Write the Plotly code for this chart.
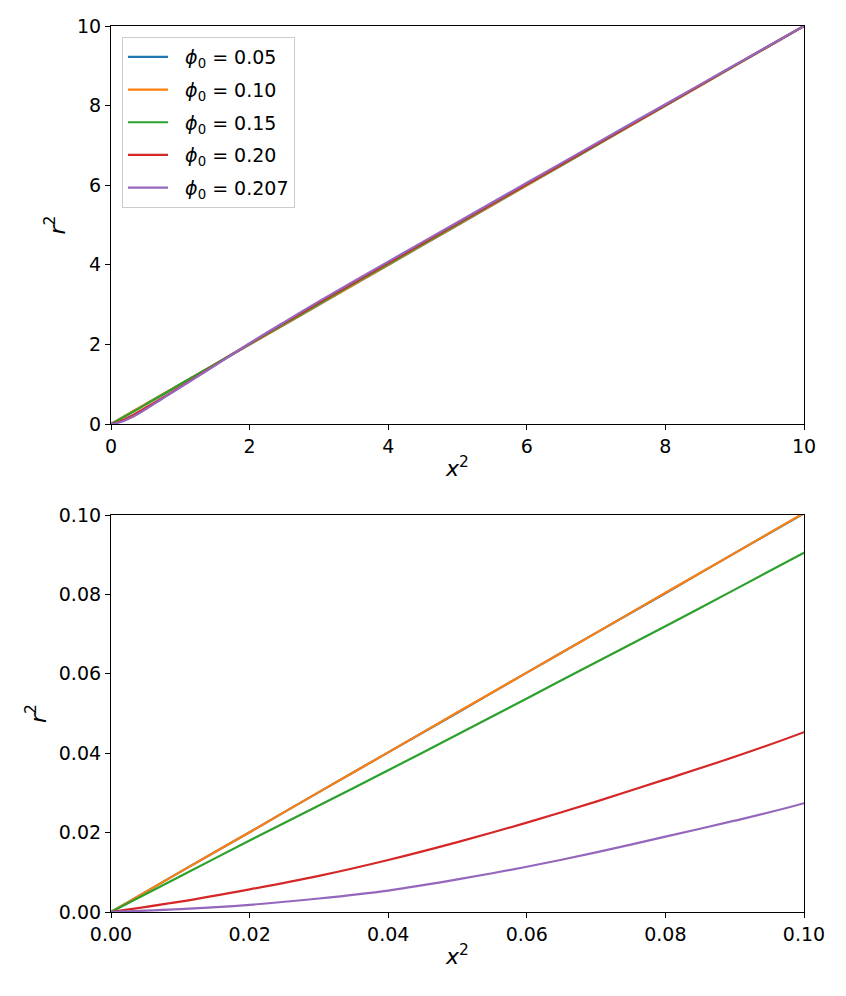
import plotly.graph_objects as go
from plotly.subplots import make_subplots

# x^2 sample grid
x2 = [0, 0.01, 0.02, 0.03, 0.04, 0.05, 0.06, 0.07, 0.08, 0.09, 0.1,
      0.15, 0.2, 0.3, 0.4, 0.5, 0.6, 0.8, 1.0, 1.2, 1.5, 2, 2.5, 3, 4, 5, 6, 7, 8, 9, 10]

# r^2 for each phi_0
r2_005 = [0, 0.0101, 0.0201, 0.0302, 0.0402, 0.0502, 0.0603, 0.0703, 0.0803, 0.0904, 0.1004,
          0.150, 0.200, 0.300, 0.400, 0.500, 0.600, 0.799, 0.998, 1.197, 1.496, 1.995, 2.495, 2.995, 3.995, 4.995, 5.995, 6.996, 7.997, 8.998, 10.0]
r2_010 = [0, 0.0101, 0.0201, 0.0302, 0.0402, 0.0503, 0.0603, 0.0703, 0.0804, 0.0904, 0.1005,
          0.151, 0.201, 0.301, 0.401, 0.501, 0.601, 0.800, 1.000, 1.200, 1.500, 2.000, 2.500, 3.000, 4.000, 5.000, 6.000, 7.000, 8.000, 9.000, 10.0]
r2_015 = [0, 0.0090, 0.0180, 0.0268, 0.0357, 0.0447, 0.0538, 0.0629, 0.0720, 0.0812, 0.0905,
          0.138, 0.187, 0.286, 0.386, 0.487, 0.589, 0.793, 0.997, 1.200, 1.505, 2.010, 2.515, 3.020, 4.020, 5.020, 6.015, 7.010, 8.010, 9.005, 10.0]
r2_020 = [0, 0.0026, 0.0057, 0.0091, 0.0131, 0.0176, 0.0225, 0.0278, 0.0334, 0.0391, 0.0453,
          0.080, 0.120, 0.210, 0.310, 0.410, 0.510, 0.720, 0.930, 1.150, 1.480, 2.020, 2.540, 3.050, 4.050, 5.040, 6.030, 7.020, 8.015, 9.010, 10.0]
r2_0207 = [0, 0.0007, 0.0018, 0.0034, 0.0054, 0.0082, 0.0114, 0.0150, 0.0190, 0.0230, 0.0274,
           0.055, 0.088, 0.170, 0.265, 0.370, 0.480, 0.700, 0.920, 1.140, 1.470, 2.030, 2.560, 3.080, 4.080, 5.070, 6.060, 7.050, 8.035, 9.020, 10.0]

labels = ["0.05", "0.10", "0.15", "0.20", "0.207"]
series = [r2_005, r2_010, r2_015, r2_020, r2_0207]
colors = ["#1f77b4", "#ff7f0e", "#2ca02c", "#d62728", "#9467bd"]

fig = make_subplots(rows=2, cols=1)
for i, (lab, ys, c) in enumerate(zip(labels, series, colors)):
    for row in (1, 2):
        fig.add_trace(go.Scatter(
            x=x2, y=ys, mode="lines",
            line=dict(color=c, width=2.2, shape="spline", smoothing=0.8),
            name="\u00a0\u00a0<i>ϕ</i><sub>0</sub> = " + lab,
            legendgroup="g" + str(i),
            showlegend=(row == 1),
        ), row=row, col=1)

font = "DejaVu Sans"
axis_common = dict(
    showline=True, linecolor="black", linewidth=1.2, mirror=True,
    ticks="outside", ticklen=5, tickwidth=1.2, tickcolor="black",
    showgrid=False, zeroline=False, automargin=False,
    tickfont=dict(family=font, size=19, color="black"),
)

fig.update_xaxes(**axis_common)
fig.update_yaxes(**axis_common)

# page body adds an 8px offset
OFF = 8
L, R, T, B = 111 - OFF, 846 - 804 + OFF, 26 - OFF, 996 - 912 + OFF
H = 996 - T - B
fig.update_layout(
    width=846, height=996,
    margin=dict(l=L, r=R, t=T, b=B),
    plot_bgcolor="white", paper_bgcolor="white",
    font=dict(family=font, color="black"),
    xaxis=dict(domain=[0, 1], range=[0, 10], tickvals=[0, 2, 4, 6, 8, 10],
               title=dict(text="<i>x</i><sup>2</sup>", font=dict(size=22), standoff=4)),
    yaxis=dict(domain=[1 - (424 - 26) / H, 1], range=[0, 10], tickvals=[0, 2, 4, 6, 8, 10],
               title=dict(text="<i>r</i><sup>2</sup>", font=dict(size=22), standoff=5)),
    xaxis2=dict(domain=[0, 1], range=[0, 0.1], tickvals=[0, 0.02, 0.04, 0.06, 0.08, 0.1], tickformat=".2f",
                title=dict(text="<i>x</i><sup>2</sup>", font=dict(size=22), standoff=4)),
    yaxis2=dict(domain=[0, 1 - (515 - 26) / H], range=[0, 0.1], tickvals=[0, 0.02, 0.04, 0.06, 0.08, 0.1], tickformat=".2f",
                title=dict(text="<i>r</i><sup>2</sup>", font=dict(size=22), standoff=6)),
    legend=dict(
        x=(122 - 111) / (846 - L - R), y=1 - (37 - 26) / H, xanchor="left", yanchor="top",
        bgcolor="rgba(255,255,255,0.8)", bordercolor="#cccccc", borderwidth=1,
        font=dict(family=font, size=19, color="black"),
        tracegroupgap=5, itemwidth=40,
    ),
)

fig.write_html("out.html")
